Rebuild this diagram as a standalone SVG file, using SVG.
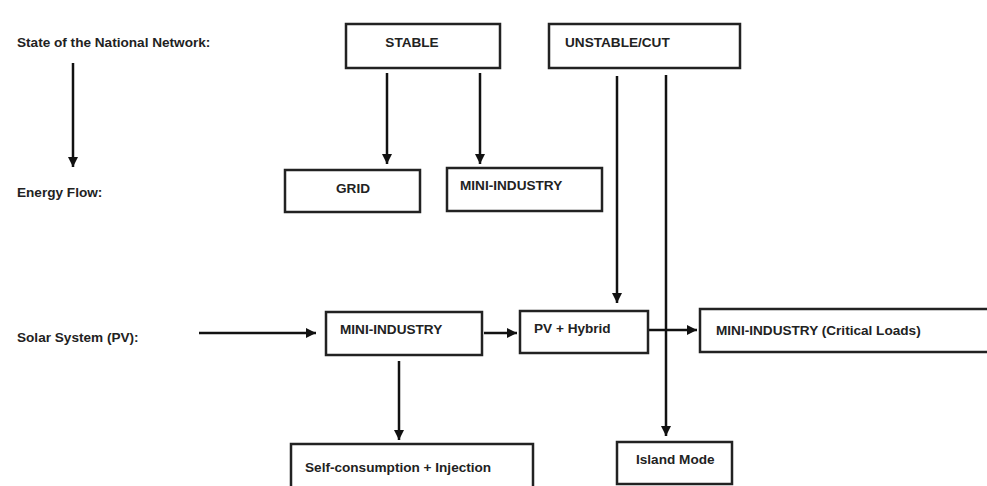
<svg xmlns="http://www.w3.org/2000/svg" width="987" height="486" viewBox="0 0 987 486">
<defs>
<marker id="ah" viewBox="0 0 10 10" refX="10" refY="5" markerWidth="4" markerHeight="4" markerUnits="strokeWidth" orient="auto">
<path d="M0,0 L10,5 L0,10 z" fill="#111"/>
</marker>
<style>
.box{fill:#fff;stroke:#222;stroke-width:2.5}
.t{font-family:"Liberation Sans",Arial,sans-serif;font-weight:bold;font-size:13.6px;fill:#222}
.c{stroke:#111;stroke-width:2.5;fill:none}
.a{marker-end:url(#ah)}
</style>
</defs>
<rect width="987" height="486" fill="#fff"/>
<g id="labels">
<text class="t" x="17" y="47">State of the National Network:</text>
<text class="t" x="17" y="197">Energy Flow:</text>
<text class="t" x="17" y="342">Solar System (PV):</text>
</g>
<g id="connectors">
<line class="c a" x1="73" y1="63" x2="73" y2="167"/>
<line class="c a" x1="387" y1="73" x2="387" y2="164"/>
<line class="c a" x1="480" y1="73" x2="480" y2="164"/>
<line class="c a" x1="617" y1="76" x2="617" y2="303"/>
<line class="c a" x1="666" y1="75" x2="666" y2="436"/>
<line class="c a" x1="199" y1="333" x2="316" y2="333"/>
<line class="c a" x1="484" y1="333" x2="517" y2="333"/>
<line class="c a" x1="648" y1="330" x2="697" y2="330"/>
<line class="c a" x1="399" y1="361" x2="399" y2="440"/>
</g>
<g id="stable">
<rect class="box" x="346" y="24" width="154" height="44"/>
<text class="t" x="412" y="47" text-anchor="middle">STABLE</text>
</g>
<g id="unstable">
<rect class="box" x="549" y="24" width="191" height="44"/>
<text class="t" x="565" y="47">UNSTABLE/CUT</text>
</g>
<g id="grid">
<rect class="box" x="285" y="170" width="135" height="42"/>
<text class="t" x="353" y="193" text-anchor="middle">GRID</text>
</g>
<g id="mini-industry-top">
<rect class="box" x="447" y="168" width="155" height="43"/>
<text class="t" x="460" y="190">MINI-INDUSTRY</text>
</g>
<g id="mini-industry-pv">
<rect class="box" x="326" y="312" width="156" height="43"/>
<text class="t" x="340" y="334">MINI-INDUSTRY</text>
</g>
<g id="pv-hybrid">
<rect class="box" x="520" y="311" width="128" height="42"/>
<text class="t" x="534" y="333">PV + Hybrid</text>
</g>
<g id="critical-loads">
<rect class="box" x="700" y="309" width="300" height="43"/>
<text class="t" x="716" y="335">MINI-INDUSTRY (Critical Loads)</text>
</g>
<g id="self-consumption">
<rect class="box" x="291" y="444" width="242" height="60"/>
<text class="t" x="305" y="472">Self-consumption + Injection</text>
</g>
<g id="island-mode">
<rect class="box" x="617" y="442" width="115" height="42"/>
<text class="t" x="636" y="464">Island Mode</text>
</g>
</svg>
